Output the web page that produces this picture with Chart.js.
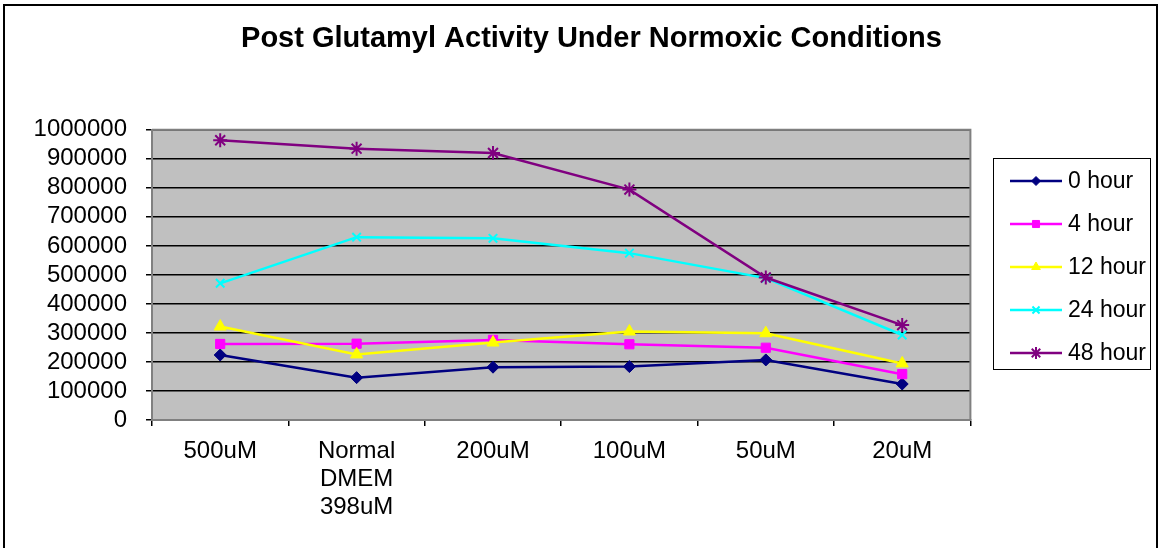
<!DOCTYPE html>
<html>
<head>
<meta charset="utf-8">
<title>Post Glutamyl Activity Under Normoxic Conditions</title>
<script src="https://cdn.jsdelivr.net/npm/chart.js@4.4.1/dist/chart.umd.min.js"></script>
<style>
  html, body { margin: 0; padding: 0; background: #fff; overflow: hidden; }
  #wrap { position: relative; width: 1159px; height: 548px; }
  #wrap canvas { position: absolute; left: 0; top: 0; }
  #frame {
    position: absolute; left: 3px; top: 4px; width: 1151px; height: 600px;
    border: 2px solid #000; pointer-events: none;
  }
</style>
</head>
<body>
<div id="wrap">
  <canvas id="chart" width="1159" height="548"></canvas>
  <div id="frame"></div>
</div>
<script>
// ── Data ─────────────────────────────────────────────────────────────────────
const categories = ["500uM", ["Normal", "DMEM", "398uM"], "200uM", "100uM", "50uM", "20uM"];
const seriesNames = ["0 hour", "4 hour", "12 hour", "24 hour", "48 hour"];
const hour0  = [224000, 146000, 182000, 184000, 207000, 124000];
const hour4  = [262000, 263000, 276000, 261000, 249000, 158000];
const hour12 = [322000, 226000, 267000, 305000, 299000, 195000];
const hour24 = [471000, 630000, 626000, 575000, 489000, 293000];
const hour48 = [964000, 935000, 920000, 794000, 491000, 327000];
const yMin = 0;
const yMax = 1000000;
const yStep = 100000;

// ── Styling ───────────────────────────────────────────────────────────────────
const FONT = "'Liberation Sans', Arial, sans-serif";

// Excel-ish series looks: colour, marker, marker size (plot / legend)
const SERIES_STYLE = [
  { color: "#000080", marker: "rectRot",  radius: 6,   legendRadius: 4.5, markerBorder: 1 },
  { color: "#FF00FF", marker: "rect",     radius: 6.5, legendRadius: 5,   markerBorder: 1 },
  { color: "#FFFF00", marker: "triangle", radius: 7,   legendRadius: 5,   markerBorder: 1 },
  { color: "#00FFFF", marker: "crossRot", radius: 6,   legendRadius: 5,   markerBorder: 2 },
  { color: "#800080", marker: "star",     radius: 7,   legendRadius: 6,   markerBorder: 2 },
];

const seriesValues = [hour0, hour4, hour12, hour24, hour48];

const datasets = seriesNames.map((name, i) => {
  const s = SERIES_STYLE[i];
  return {
    label: name,
    data: seriesValues[i],
    borderColor: s.color,
    backgroundColor: s.color,
    borderWidth: 2.5,
    pointStyle: s.marker,
    pointRadius: s.radius,
    pointHoverRadius: s.radius,
    pointBackgroundColor: s.color,
    pointBorderColor: s.color,
    pointBorderWidth: s.markerBorder,
    legendRadius: s.legendRadius,
    tension: 0,
    fill: false,
    order: seriesNames.length - i, // later series drawn on top, like Excel
  };
});

// ── Plugins ───────────────────────────────────────────────────────────────────

// Grey plot background + grey frame on top/right
const plotFrame = {
  id: "plotFrame",
  beforeDraw(chart) {
    const { ctx, chartArea: a } = chart;
    ctx.save();
    ctx.fillStyle = "#C0C0C0";
    ctx.fillRect(a.left, a.top, a.right - a.left, a.bottom - a.top);
    ctx.restore();
  },
  beforeDatasetsDraw(chart) {
    const { ctx, chartArea: a } = chart;
    ctx.save();
    ctx.strokeStyle = "#808080";
    ctx.lineWidth = 2;
    ctx.beginPath();
    ctx.moveTo(a.left, a.top);
    ctx.lineTo(a.right, a.top);
    ctx.lineTo(a.right, a.bottom);
    ctx.stroke();
    ctx.restore();
  },
};

// Boxed legend with line + marker samples, drawn from the datasets
const boxLegend = {
  id: "boxLegend",
  afterDraw(chart, args, opts) {
    const { ctx } = chart;
    ctx.save();
    ctx.strokeStyle = "#000";
    ctx.lineWidth = 1;
    ctx.strokeRect(opts.left + 0.5, opts.top + 0.5, opts.width, opts.height);

    const mid = (opts.lineStart + opts.lineEnd) / 2;
    chart.data.datasets.forEach((ds, i) => {
      const cy = opts.firstY + i * opts.step;
      ctx.strokeStyle = ds.borderColor;
      ctx.lineWidth = ds.borderWidth;
      ctx.beginPath();
      ctx.moveTo(opts.lineStart, cy);
      ctx.lineTo(opts.lineEnd, cy);
      ctx.stroke();

      ctx.fillStyle = ds.pointBackgroundColor;
      ctx.strokeStyle = ds.pointBorderColor;
      ctx.lineWidth = ds.pointBorderWidth;
      Chart.helpers.drawPoint(ctx, {
        pointStyle: ds.pointStyle,
        radius: ds.legendRadius,
        borderWidth: ds.pointBorderWidth,
        rotation: 0,
      }, mid, cy);

      ctx.fillStyle = "#000";
      ctx.font = `${opts.fontSize}px ${FONT}`;
      ctx.textBaseline = "middle";
      ctx.textAlign = "left";
      ctx.fillText(ds.label, opts.textX, cy + 1);
    });
    ctx.restore();
  },
};

// ── Chart ─────────────────────────────────────────────────────────────────────
new Chart(document.getElementById("chart"), {
  type: "line",
  data: { labels: categories, datasets },
  plugins: [plotFrame, boxLegend],
  options: {
    responsive: false,
    animation: false,
    devicePixelRatio: 1,
    layout: { padding: { left: 24, top: 0, right: 0, bottom: 0 } },
    plugins: {
      legend: { display: false },
      tooltip: { enabled: false },
      title: {
        display: true,
        text: "Post Glutamyl Activity Under Normoxic Conditions",
        color: "#000",
        font: { family: FONT, size: 29, weight: "bold", lineHeight: 1.2 },
        padding: { top: 22, bottom: 73 },
      },
      boxLegend: {
        left: 993, top: 158, width: 157, height: 211,
        lineStart: 1010, lineEnd: 1062, textX: 1068,
        firstY: 181, step: 43, fontSize: 23,
      },
    },
    scales: {
      x: {
        type: "category",
        offset: true,
        grid: {
          display: true,
          drawOnChartArea: false,
          drawTicks: true,
          tickLength: 6,
          offset: true,
          color: "#000",
          lineWidth: 1.5,
        },
        border: { display: true, color: "#808080", width: 2 },
        ticks: {
          color: "#000",
          font: { family: FONT, size: 24, lineHeight: 1.18 },
          padding: 11,
          maxRotation: 0,
          autoSkip: false,
        },
        afterFit(scale) { scale.height = 128; },
      },
      y: {
        min: yMin,
        max: yMax,
        grid: { color: "#000", lineWidth: 1.5, tickLength: 6 },
        border: { display: true, color: "#808080", width: 2 },
        ticks: {
          stepSize: yStep,
          autoSkip: false,
          color: "#000",
          font: { family: FONT, size: 24 },
          padding: 19,
          callback: v => String(v),
        },
        afterFit(scale) { scale.width = 128; },
      },
      // empty right-hand box that keeps room for the legend
      spacer: {
        type: "linear",
        position: "right",
        display: true,
        grid: { display: false },
        ticks: { display: false },
        border: { display: false },
        afterFit(scale) { scale.width = 188.6; },
      },
    },
  },
});
</script>
</body>
</html>
